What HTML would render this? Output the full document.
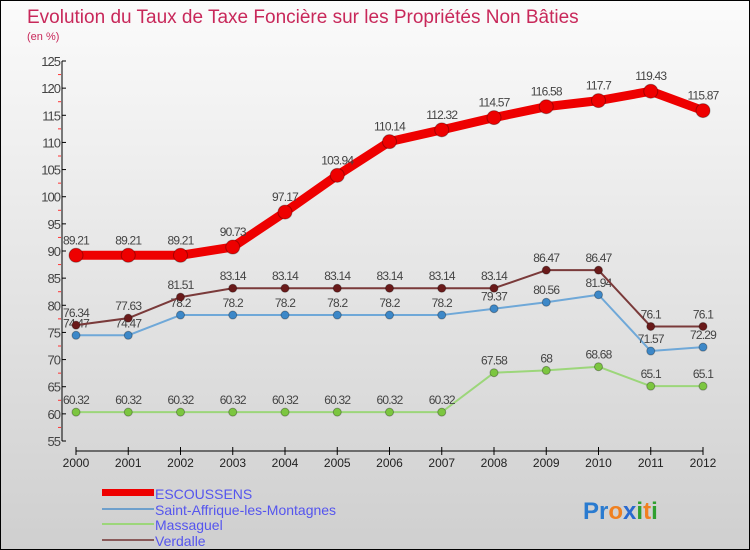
<!DOCTYPE html>
<html><head><meta charset="utf-8"><style>
body{margin:0}
#c{width:750px;height:550px;position:relative;box-sizing:border-box;border:1px solid #000;background:linear-gradient(#fbfbfb,#cfcfcf);font-family:"Liberation Sans",sans-serif;overflow:hidden}
</style></head><body>
<div id="c">
<svg id="s" width="750" height="550" style="position:absolute;left:0;top:0">
<text x="26" y="22" font-size="19" fill="#c8285a">Evolution du Taux de Taxe Foncière sur les Propriétés Non Bâties</text>
<text x="26" y="39" font-size="11" fill="#c8285a">(en %)</text>
<g id="ax"></g><g id="ser"></g>
<g>
<rect x="101" y="488" width="52" height="7" fill="#e00"/>
<text x="154" y="498" font-size="14" fill="#55e">ESCOUSSENS</text>
<rect x="101" y="507" width="52" height="2" fill="#6fa0cc"/>
<text x="154" y="514" font-size="14" fill="#55e">Saint-Affrique-les-Montagnes</text>
<rect x="101" y="522" width="52" height="2" fill="#9cd67a"/>
<text x="154" y="529" font-size="14" fill="#55e">Massaguel</text>
<rect x="101" y="538" width="52" height="2" fill="#8a5a5a"/>
<text x="154" y="545" font-size="14" fill="#55e">Verdalle</text>
</g>
<text x="582" y="518" font-size="24" font-weight="bold"><tspan fill="#2a7bd0">Pr</tspan><tspan fill="#f08020">o</tspan><tspan fill="#2a6ad0">x</tspan><tspan fill="#30a030">i</tspan><tspan fill="#f08020">t</tspan><tspan fill="#30a030">i</tspan></text>
</svg>
</div>
<script>
const years=[2000,2001,2002,2003,2004,2005,2006,2007,2008,2009,2010,2011,2012];
const escoussens=[89.21,89.21,89.21,90.73,97.17,103.94,110.14,112.32,114.57,116.58,117.7,119.43,115.87];
const saintAffrique=[74.47,74.47,78.2,78.2,78.2,78.2,78.2,78.2,79.37,80.56,81.94,71.57,72.29];
const massaguel=[60.32,60.32,60.32,60.32,60.32,60.32,60.32,60.32,67.58,68,68.68,65.1,65.1];
const verdalle=[76.34,77.63,81.51,83.14,83.14,83.14,83.14,83.14,83.14,86.47,86.47,76.1,76.1];
const yTicks=[55,60,65,70,75,80,85,90,95,100,105,110,115,120,125];
const NS="http://www.w3.org/2000/svg";
const X=i=>75+i*52.25, Y=v=>440-(v-55)*380/70;
function mk(t,a,p){const e=document.createElementNS(NS,t);for(const k in a)e.setAttribute(k,a[k]);p.appendChild(e);return e;}
const ax=document.getElementById('ax'),ser=document.getElementById('ser');
let l=mk('line',{x1:61,y1:Y(125),x2:61,y2:Y(55),stroke:'#000'},ax);


l=mk('line',{x1:X(0),y1:450,x2:X(12),y2:450,stroke:'#000'},ax);


yTicks.forEach((v,i)=>{
 mk('line',{x1:61,y1:Y(v),x2:65,y2:Y(v),stroke:'#000'},ax);
 if(i<yTicks.length-1) mk('line',{x1:57,y1:Y(v+2.5),x2:60,y2:Y(v+2.5),stroke:'#f33'},ax);
 const t=mk('text',{x:59,y:Y(v)+5,'text-anchor':'end','font-size':13,fill:'#444','letter-spacing':'-1'},ax);
 t.textContent=v;
 
 
});
years.forEach((y,i)=>{
 mk('line',{x1:X(i),y1:446,x2:X(i),y2:454,stroke:'#000'},ax);
 const t=mk('text',{x:X(i),y:466,'text-anchor':'middle','font-size':12,fill:'#222'},ax);
 t.textContent=y;
 
 
});
function series(name,vals,col,w,r,dot){
 const g=mk('g',{},ser);
 
 
 const p=mk('polyline',{points:vals.map((v,i)=>X(i)+','+Y(v)).join(' '),fill:'none',stroke:col,'stroke-width':w,'stroke-linejoin':'round'},g);
 
 
 vals.forEach((v,i)=>{
  const c=mk('circle',{cx:X(i),cy:Y(v),r:r,fill:dot,stroke:'rgba(0,0,0,0.3)'},g);
  
  
  const t=mk('text',{x:X(i),y:Y(v)-(r+4),'text-anchor':'middle','font-size':12,fill:'#444','letter-spacing':'-0.8'},g);
  t.textContent=v;
  
  
 });
}
series('massaguel',massaguel,'#9cd67a',2,4,'#7cc640');
series('saint-affrique',saintAffrique,'#6fa8d8',2,4,'#3d88c8');
series('verdalle',verdalle,'#7a3a3a',2,4,'#6a1a1a');
series('escoussens',escoussens,'#e00',9,7,'#e00');
</script>
</body></html>
